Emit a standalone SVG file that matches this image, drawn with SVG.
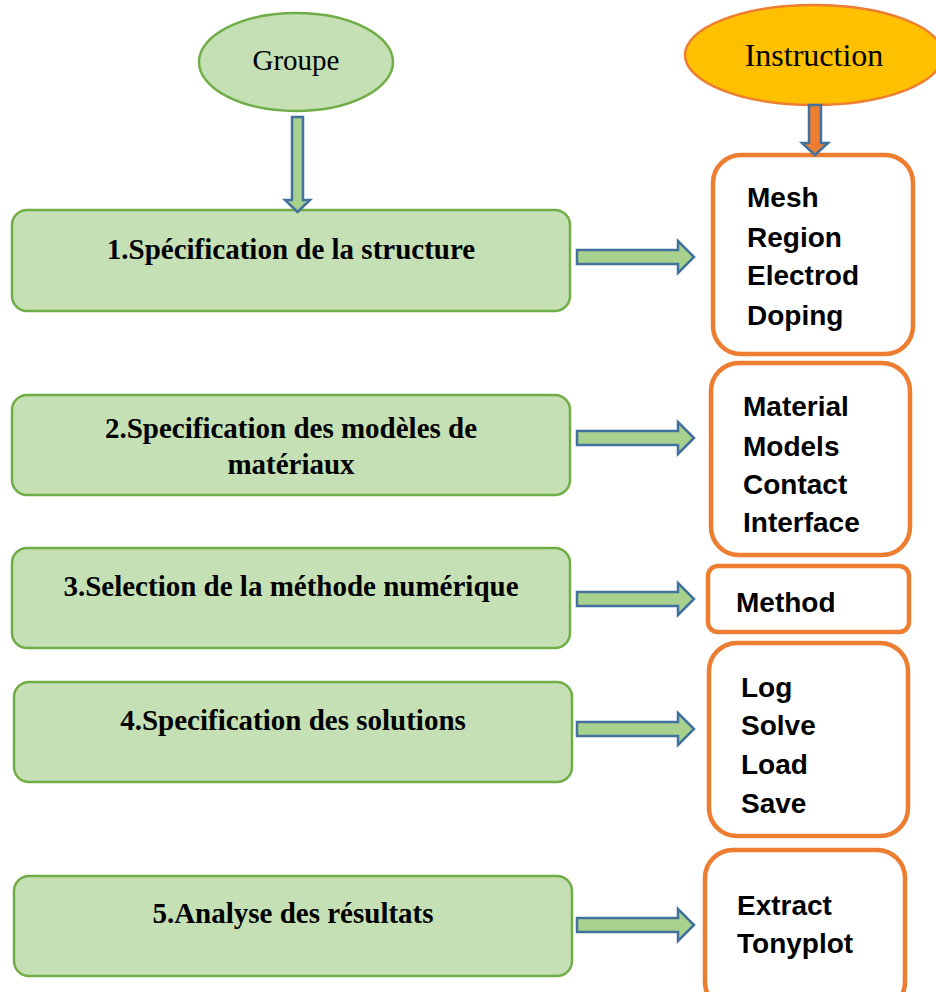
<svg xmlns="http://www.w3.org/2000/svg" width="936" height="992" viewBox="0 0 936 992">
<style>
.step{fill:#C5E0B4;stroke:#70AD47;stroke-width:2.5}
.ins{fill:#FFFFFF;stroke:#ED7D31;stroke-width:4.5}
.arr{fill:#A9D18E;stroke:#41719C;stroke-width:2.5;stroke-linejoin:miter}
.t{font-family:"Liberation Serif","Times New Roman",serif;font-weight:bold;font-size:29px;fill:#000;text-anchor:middle}
.c{font-family:"Liberation Sans",Arial,sans-serif;font-weight:bold;font-size:28px;fill:#000}
.e{font-family:"Liberation Serif","Times New Roman",serif;fill:#000;text-anchor:middle}
</style>
<rect width="936" height="992" fill="#FFFFFF"/>
<g id="groupe">
<ellipse cx="296" cy="62" rx="97" ry="49" fill="#C5E0B4" stroke="#70AD47" stroke-width="2.5"/>
<text class="e" x="296" y="70" font-size="29">Groupe</text>
</g>
<g id="instruction">
<ellipse cx="814" cy="55" rx="129" ry="50" fill="#FFC000" stroke="#ED7D31" stroke-width="2.5"/>
<text class="e" x="814" y="66" font-size="32">Instruction</text>
</g>
<g id="step1">
<rect class="step" x="12" y="210" width="558" height="101" rx="15"/>
<text class="t" x="291" y="259">1.Spécification de la structure</text>
</g>
<g id="step2">
<rect class="step" x="12" y="395" width="558" height="100" rx="15"/>
<text class="t" x="291" y="438">2.Specification des modèles de</text>
<text class="t" x="291" y="474">matériaux</text>
</g>
<g id="step3">
<rect class="step" x="12" y="548" width="558" height="100" rx="15"/>
<text class="t" x="291" y="596">3.Selection de la méthode numérique</text>
</g>
<g id="step4">
<rect class="step" x="14" y="682" width="558" height="100" rx="15"/>
<text class="t" x="293" y="730">4.Specification des solutions</text>
</g>
<g id="step5">
<rect class="step" x="14" y="876" width="558" height="100" rx="15"/>
<text class="t" x="293" y="923">5.Analyse des résultats</text>
</g>
<g id="ins1">
<rect class="ins" x="713" y="155" width="200" height="199" rx="28"/>
<text class="c" x="747" y="207">Mesh</text>
<text class="c" x="747" y="247">Region</text>
<text class="c" x="747" y="285">Electrod</text>
<text class="c" x="747" y="325">Doping</text>
</g>
<g id="ins2">
<rect class="ins" x="711" y="363" width="199" height="192" rx="28"/>
<text class="c" x="743" y="416">Material</text>
<text class="c" x="743" y="456">Models</text>
<text class="c" x="743" y="494">Contact</text>
<text class="c" x="743" y="532">Interface</text>
</g>
<g id="ins3">
<rect class="ins" x="708" y="566" width="201" height="66" rx="10"/>
<text class="c" x="736" y="612">Method</text>
</g>
<g id="ins4">
<rect class="ins" x="709" y="643" width="199" height="193" rx="28"/>
<text class="c" x="741" y="697">Log</text>
<text class="c" x="741" y="735">Solve</text>
<text class="c" x="741" y="774">Load</text>
<text class="c" x="741" y="813">Save</text>
</g>
<g id="ins5">
<rect class="ins" x="705" y="850" width="200" height="160" rx="28"/>
<text class="c" x="737" y="915">Extract</text>
<text class="c" x="737" y="953">Tonyplot</text>
</g>
<g id="connectors">
<path class="arr" d="M292,117 H303 V200 H310 L297.5,212 L285,200 H292 Z"/>
<path d="M809,105 H821 V143 H828 L815,155 L802,143 H809 Z" fill="#ED7D31" stroke="#41719C" stroke-width="2.5"/>
<path class="arr" d="M577,250 H678 V241 L694,257 L678,273 V264 H577 Z"/>
<path class="arr" d="M577,431 H678 V422 L694,438 L678,454 V445 H577 Z"/>
<path class="arr" d="M577,592 H678 V583 L694,599 L678,615 V606 H577 Z"/>
<path class="arr" d="M577,722 H678 V713 L694,729 L678,745 V736 H577 Z"/>
<path class="arr" d="M577,918 H678 V909 L694,925 L678,941 V932 H577 Z"/>
</g>
</svg>
